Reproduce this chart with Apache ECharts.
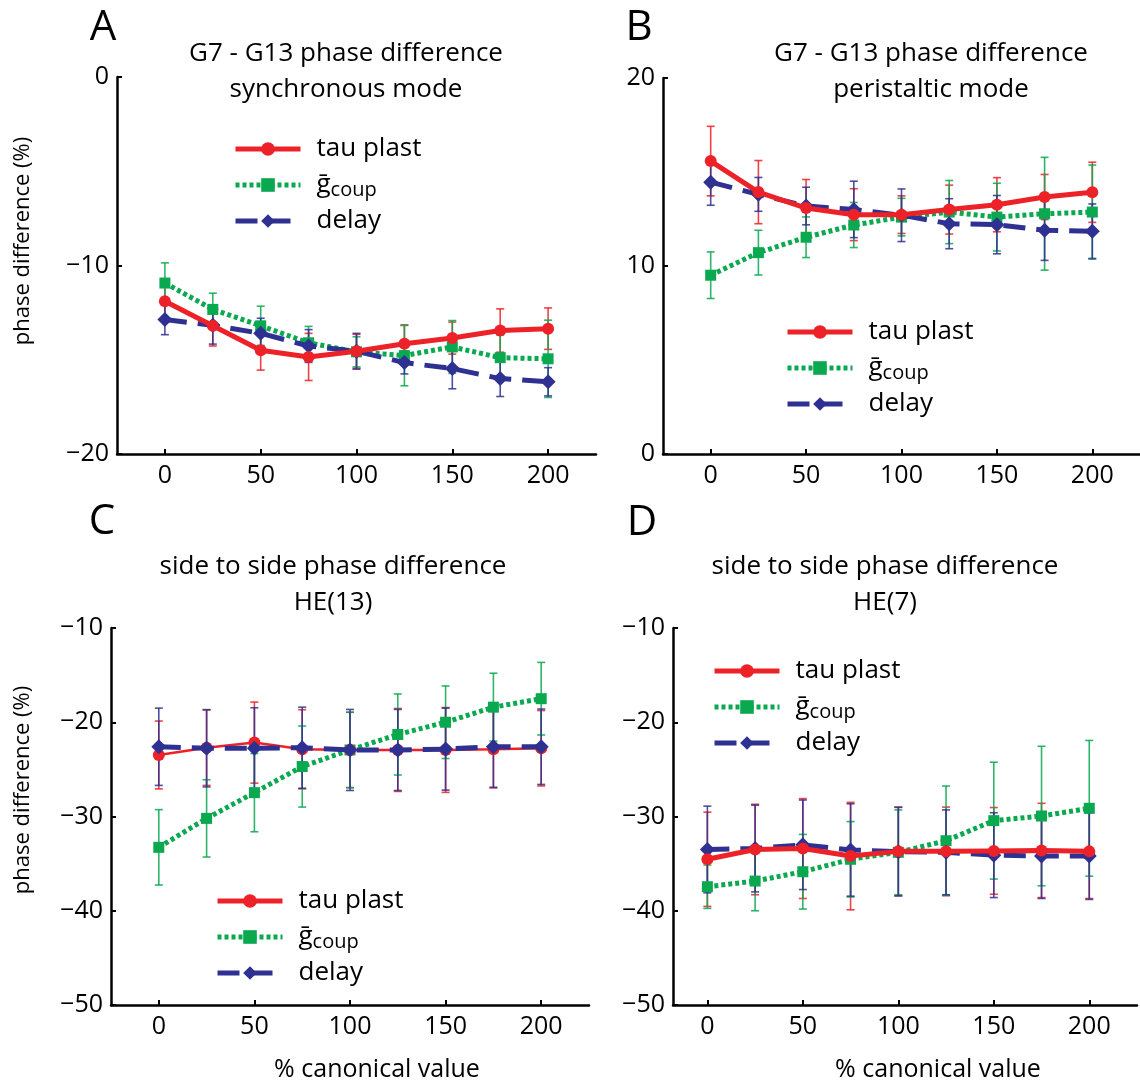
<!DOCTYPE html>
<html>
<head>
<meta charset="utf-8">
<script src="https://cdn.jsdelivr.net/npm/echarts@6/dist/echarts.min.js"></script>
<style>
html, body { margin: 0; padding: 0; background: #fff; }
#chart { width: 1140px; height: 1084px; }
</style>
</head>
<body>
<div id="chart"></div>
<script>
// % canonical value
var xVals = [0, 25, 50, 75, 100, 125, 150, 175, 200];
var xTicks = [0, 50, 100, 150, 200];

// A: G7 - G13 phase difference, synchronous mode
var tauA = [-11.9, -13.2, -14.5, -14.85, -14.55, -14.15, -13.85, -13.45, -13.35];
var tauErrA = [0.9, 1.07, 1.05, 1.25, 0.9, 1.0, 0.85, 1.15, 1.1];
var gA = [-10.93, -12.33, -13.2, -14.1, -14.58, -14.78, -14.32, -14.89, -14.95];
var gErrA = [1.07, 0.86, 1.04, 0.87, 0.8, 1.6, 1.4, 1.2, 2.05];
var delayA = [-12.87, -13.17, -13.6, -14.27, -14.55, -15.15, -15.47, -16.0, -16.17];
var delayErrA = [0.8, 1.0, 0.8, 0.87, 0.95, 0.6, 1.07, 0.95, 0.75];

// B: G7 - G13 phase difference, peristaltic mode
var tauB = [15.58, 13.93, 13.08, 12.73, 12.73, 13.0, 13.26, 13.67, 13.92];
var tauErrB = [1.85, 1.68, 1.52, 1.38, 1.0, 1.3, 1.44, 1.2, 1.6];
var gB = [9.51, 10.71, 11.53, 12.18, 12.6, 12.87, 12.6, 12.78, 12.87];
var gErrB = [1.24, 1.19, 1.08, 1.2, 1.0, 1.68, 1.8, 3.0, 2.5];
var delayB = [14.46, 13.81, 13.19, 13.01, 12.7, 12.25, 12.2, 11.9, 11.85];
var delayErrB = [1.23, 0.9, 1.0, 1.5, 1.4, 1.33, 1.55, 1.6, 1.45];

// C: side to side phase difference, HE(13)
var tauC = [-23.47, -22.7, -22.16, -22.87, -22.94, -22.94, -22.94, -22.87, -22.76];
var tauErrC = [3.6, 4.0, 4.3, 4.2, 4.0, 4.4, 4.5, 4.1, 4.0];
var gC = [-33.27, -30.2, -27.47, -24.7, -22.94, -21.3, -20.0, -18.4, -17.5];
var gErrC = [4.0, 4.1, 4.15, 4.3, 4.0, 4.3, 3.85, 3.6, 3.85];
var delayC = [-22.6, -22.76, -22.76, -22.7, -22.94, -22.94, -22.85, -22.6, -22.6];
var delayErrC = [4.1, 4.1, 4.3, 4.3, 4.3, 4.3, 4.35, 4.3, 4.0];

// D: side to side phase difference, HE(7)
var tauD = [-34.54, -33.5, -33.4, -34.2, -33.7, -33.7, -33.65, -33.6, -33.7];
var tauErrD = [5.0, 4.8, 5.3, 5.7, 4.7, 4.7, 4.6, 5.0, 5.0];
var gD = [-37.45, -36.85, -35.86, -34.54, -33.8, -32.57, -30.44, -29.95, -29.13];
var gErrD = [2.3, 3.15, 3.96, 4.0, 4.5, 5.8, 6.2, 7.4, 7.2];
var delayD = [-33.5, -33.4, -33.0, -33.55, -33.73, -33.8, -34.1, -34.2, -34.2];
var delayErrD = [4.6, 4.6, 4.75, 4.9, 4.7, 4.5, 4.5, 4.5, 4.6];

var RED = '#ec2228', GREEN = '#0aa84f', BLUE = '#2e3192';
var FONT = "'Open Sans', sans-serif";

var myChart = echarts.init(document.getElementById('chart'));

function pairs(ys) {
	return xVals.map(function (x, i) { return [x, ys[i]]; });
}
function triples(ys, es) {
	return xVals.map(function (x, i) { return [x, ys[i], es[i]]; });
}

function errSeries(idx, ys, es, color) {
	return {
		type: 'custom',
		name: 'err',
		xAxisIndex: idx,
		yAxisIndex: idx,
		z: 2,
		silent: true,
		encode: { x: 0, y: 1 },
		data: triples(ys, es),
		renderItem: function (params, api) {
			var x = api.value(0), y = api.value(1), e = api.value(2);
			var hi = api.coord([x, y + e]);
			var lo = api.coord([x, y - e]);
			var w = 4;
			var st = { stroke: color, lineWidth: 1.6, opacity: 0.85 };
			return {
				type: 'group',
				children: [
					{ type: 'line', shape: { x1: hi[0], y1: hi[1], x2: lo[0], y2: lo[1] }, style: st },
					{ type: 'line', shape: { x1: hi[0] - w, y1: hi[1], x2: hi[0] + w, y2: hi[1] }, style: st },
					{ type: 'line', shape: { x1: lo[0] - w, y1: lo[1], x2: lo[0] + w, y2: lo[1] }, style: st }
				]
			};
		}
	};
}

function lineSeries(idx, name, ys, color, symbol, size, width, dash, z) {
	return {
		type: 'line',
		name: name,
		xAxisIndex: idx,
		yAxisIndex: idx,
		z: z,
		data: pairs(ys),
		symbol: symbol,
		symbolSize: size,
		showAllSymbol: true,
		animation: false,
		itemStyle: { color: color },
		lineStyle: { color: color, width: width, type: dash }
	};
}

var panels = [
	{ tau: tauA, te: tauErrA, g: gA, ge: gErrA, d: delayA, de: delayErrA, redW: 5, tauZ: 5, min: -20, max: 0 },
	{ tau: tauB, te: tauErrB, g: gB, ge: gErrB, d: delayB, de: delayErrB, redW: 5, tauZ: 5, min: 0, max: 20 },
	{ tau: tauC, te: tauErrC, g: gC, ge: gErrC, d: delayC, de: delayErrC, redW: 2.5, tauZ: 3, min: -50, max: -10 },
	{ tau: tauD, te: tauErrD, g: gD, ge: gErrD, d: delayD, de: delayErrD, redW: 5, tauZ: 5, min: -50, max: -10 }
];

var grids = [
	{ left: 117, top: 77, width: 479, height: 377 },
	{ left: 663, top: 78, width: 479, height: 376 },
	{ left: 111, top: 628, width: 478, height: 377 },
	{ left: 673, top: 628, width: 464, height: 377 }
];
var xMins = [-25, -25, -25, -18];

var xAxes = [], yAxes = [], series = [], legends = [];
var legendPos = [[233, 134], [785, 317], [215, 886], [712, 656]];

panels.forEach(function (p, i) {
	xAxes.push({
		type: 'value', gridIndex: i, min: xMins[i], max: 225,
		splitLine: { show: false },
		axisLine: { onZero: false, lineStyle: { color: '#000', width: 2.5 } },
		axisTick: { inside: true, length: 5, customValues: xTicks, lineStyle: { color: '#000', width: 2 } },
		axisLabel: { customValues: xTicks, margin: 9, color: '#000', fontSize: 25, fontFamily: FONT }
	});
	yAxes.push({
		type: 'value', gridIndex: i, min: p.min, max: p.max, interval: 10,
		splitLine: { show: false },
		axisLine: { show: true, onZero: false, lineStyle: { color: '#000', width: 2.5 } },
		axisTick: { show: true, inside: true, length: 5, lineStyle: { color: '#000', width: 2 } },
		axisLabel: {
			margin: 8, color: '#000', fontSize: 25, fontFamily: FONT,
			formatter: function (v) { return String(v).replace('-', '\u2212'); }
		}
	});
	series.push(errSeries(i, p.tau, p.te, RED));
	series.push(errSeries(i, p.g, p.ge, GREEN));
	series.push(errSeries(i, p.d, p.de, BLUE));
	series.push(lineSeries(i, 'gcoup', p.g, GREEN, 'rect', 11, 5, [4, 3], 3));
	series.push(lineSeries(i, 'delay', p.d, BLUE, 'diamond', 15, 5, [22, 11], 4));
	series.push(lineSeries(i, 'tau plast', p.tau, RED, 'circle', 12, p.redW, 'solid', p.tauZ));
	legends.push({
		left: legendPos[i][0], top: legendPos[i][1],
		padding: 0,
		orient: 'vertical',
		selectedMode: false,
		data: ['tau plast', 'gcoup', 'delay'],
		itemWidth: 65, itemHeight: 17, itemGap: 6,
		lineStyle: { width: 5 },
		textStyle: {
			fontFamily: FONT, fontSize: 26, color: '#000', lineHeight: 30, padding: [0, 0, 0, 11],
			rich: {
				g: { fontFamily: FONT, fontSize: 26, color: '#000', lineHeight: 30 },
				sub: { fontFamily: FONT, fontSize: 20, color: '#000', lineHeight: 30, padding: [10, 0, 0, 0] }
			}
		},
		formatter: function (name) {
			return name === 'gcoup' ? '{g|\u1E21}{sub|coup}' : name;
		}
	});
});

function txt(x, y, s, size, extra) {
	var o = {
		type: 'text', x: x, y: y,
		style: { text: s, fill: '#000', font: size + 'px ' + FONT, textAlign: 'center', textVerticalAlign: 'middle', lineHeight: 36 }
	};
	if (extra) { for (var k in extra) { o[k] = extra[k]; } }
	return o;
}

var graphics = [
	txt(103, 28, 'A', 42), txt(639, 28, 'B', 42), txt(102, 522, 'C', 42), txt(642, 523, 'D', 42),
	txt(346, 72, 'G7 - G13 phase difference\nsynchronous mode', 26),
	txt(931, 72, 'G7 - G13 phase difference\nperistaltic mode', 26),
	txt(333, 585, 'side to side phase difference\nHE(13)', 26),
	txt(885, 585, 'side to side phase difference\nHE(7)', 26),
	txt(377, 1070, '% canonical value', 25),
	txt(938, 1070, '% canonical value', 25),
	txt(23, 241, 'phase difference (%)', 22, { rotation: Math.PI / 2 }),
	txt(23, 790, 'phase difference (%)', 22, { rotation: Math.PI / 2 })
];

option = {
	backgroundColor: '#fff',
	animation: false,
	grid: grids,
	xAxis: xAxes,
	yAxis: yAxes,
	legend: legends,
	series: series,
	graphic: graphics
};
myChart.setOption(option);
</script>
</body>
</html>
